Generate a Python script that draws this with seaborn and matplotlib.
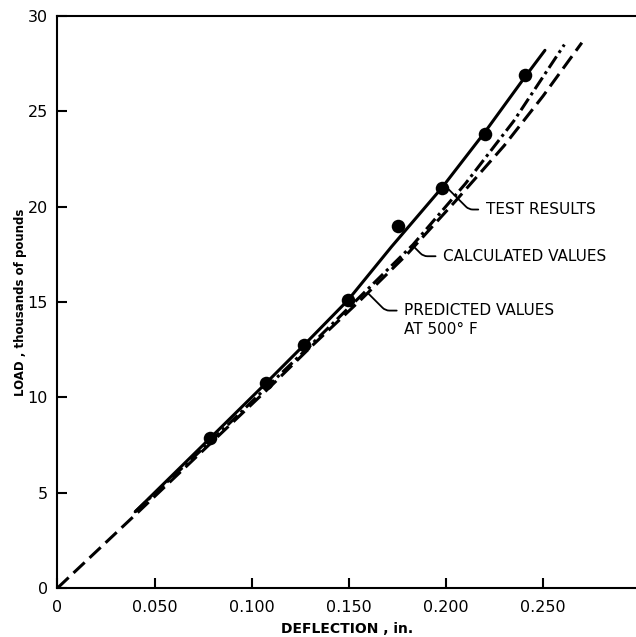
import matplotlib
matplotlib.use("Agg")
import matplotlib.pyplot as plt
import seaborn as sns

# Measured load-deflection points (deflection in inches, load in kips)
test_defl = [0.0785, 0.1074, 0.127, 0.1496, 0.1753, 0.198, 0.220, 0.2407]
test_load = [7.85, 10.75, 12.75, 15.1, 19.0, 21.0, 23.8, 26.9]

# Faired curve through the test results
fair_defl = [0.040, 0.0785, 0.1074, 0.127, 0.1496, 0.172, 0.198, 0.220, 0.2407, 0.251]
fair_load = [4.0, 7.85, 10.75, 12.75, 15.1, 17.9, 21.0, 23.9, 26.8, 28.2]

# Calculated values
calc_defl = [0.040, 0.080, 0.110, 0.130, 0.156, 0.183, 0.210, 0.235, 0.261]
calc_load = [4.0, 7.8, 10.75, 12.7, 15.3, 18.0, 21.2, 24.5, 28.5]

# Predicted values at 500 F
pred_defl = [0.0, 0.041, 0.080, 0.110, 0.130, 0.156, 0.180, 0.205, 0.230, 0.250, 0.270]
pred_load = [0.0, 3.93, 7.7, 10.6, 12.6, 15.1, 17.5, 20.3, 23.2, 25.8, 28.6]

x_ticks = [0, 0.05, 0.10, 0.15, 0.20, 0.25]
x_tick_labels = ["0", "0.050", "0.100", "0.150", "0.200", "0.250"]
y_ticks = [0, 5, 10, 15, 20, 25, 30]

sns.set_theme(style="white")
plt.rcParams["font.family"] = ["DejaVu Sans"]
plt.rcParams.update({"text.color": "black", "axes.labelcolor": "black",
                     "xtick.color": "black", "ytick.color": "black"})

fig = plt.figure(figsize=(6.36, 6.37), dpi=100)
ax = fig.add_axes([57.5 / 636, 49 / 637, 1 - 57.5 / 636, 572 / 637])

lw = 2.2
sns.lineplot(x=pred_defl, y=pred_load, ax=ax, color="black", lw=lw,
             linestyle=(0, (5, 2.2)), errorbar=None)
sns.lineplot(x=calc_defl, y=calc_load, ax=ax, color="black", lw=lw,
             linestyle=(0, (4.5, 1.4, 1.0, 1.4)), errorbar=None)
sns.lineplot(x=fair_defl, y=fair_load, ax=ax, color="black", lw=lw,
             errorbar=None)
sns.scatterplot(x=test_defl, y=test_load, ax=ax, color="black", s=95,
                edgecolor="black", linewidth=0, zorder=5)

ax.set_xlim(0, 578.5 / 1942)
ax.set_ylim(0, 30)
ax.set_xticks(x_ticks)
ax.set_xticklabels(x_tick_labels)
ax.set_yticks(y_ticks)

for side in ("left", "bottom", "top"):
    ax.spines[side].set_visible(True)
    ax.spines[side].set_color("black")
    ax.spines[side].set_linewidth(1.5)
ax.spines["right"].set_visible(False)

ax.tick_params(axis="both", which="major", direction="in", length=7.5,
               width=1.5, color="black", labelsize=11.5, labelcolor="black",
               bottom=True, left=True, top=False, right=False)
ax.tick_params(axis="x", pad=9)
ax.tick_params(axis="y", pad=7)

ax.set_xlabel("DEFLECTION , in.", fontsize=10, fontweight="bold", color="black")
ax.set_ylabel("LOAD , thousands of pounds", fontsize=8.5, fontweight="bold",
              color="black")
ax.xaxis.set_label_coords(0.5, -0.059)
ax.yaxis.set_label_coords(-0.053, 0.5)

# Leader-line labels for the three curves
leader = dict(arrowstyle="-", color="black", lw=1.3, relpos=(0, 0.5),
              shrinkA=3, shrinkB=0,
              connectionstyle="angle,angleA=180,angleB=135,rad=4")
ax.annotate("TEST RESULTS", xy=(0.2015, 20.9), xytext=(0.2205, 19.85),
            textcoords="data", fontsize=11, ha="left", va="center",
            color="black", arrowprops=leader)
ax.annotate("CALCULATED VALUES", xy=(0.183, 17.95), xytext=(0.1985, 17.4),
            textcoords="data", fontsize=11, ha="left", va="center",
            color="black", arrowprops=leader)
ax.annotate("PREDICTED VALUES", xy=(0.1600, 15.45), xytext=(0.1785, 14.55),
            textcoords="data", fontsize=11, ha="left", va="center",
            color="black", arrowprops=leader)
ax.text(0.1785, 13.55, "AT 500\u00b0 F", fontsize=11, ha="left", va="center",
        color="black")

fig.savefig("out.png", dpi=100)
